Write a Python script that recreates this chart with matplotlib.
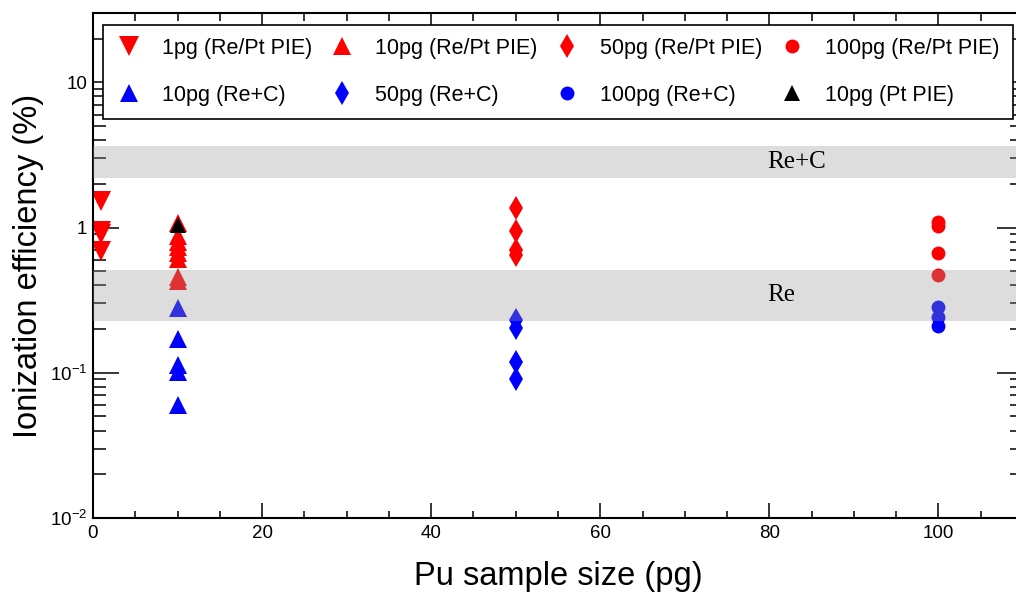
"""
ionization efficiency vs Pu sample size
"""

import matplotlib
matplotlib.use("Agg")
import matplotlib.pyplot as plt
from matplotlib.ticker import FixedLocator, LogLocator, MultipleLocator, FuncFormatter

plt.rcParams['font.family'] = ['Liberation Sans', 'DejaVu Sans']
plt.rcParams['mathtext.fontset'] = 'custom'
plt.rcParams['mathtext.rm'] = 'Liberation Sans'
plt.rcParams['mathtext.default'] = 'regular'

# measured efficiencies (%) per sample size / filament setup
x_1pg = 1
eff_1pg_pie = [1.52, 0.94, 0.90, 0.69]

x_10pg = 10
eff_10pg_pie = [1.08, 0.87, 0.80, 0.73, 0.67, 0.61, 0.46, 0.43]
eff_10pg_rec = [0.28, 0.172, 0.114, 0.101, 0.060]
eff_10pg_pt = [1.04]

x_50pg = 50
eff_50pg_pie = [1.37, 0.94, 0.705, 0.65]
eff_50pg_rec = [0.232, 0.204, 0.119, 0.091]

x_100pg = 100
eff_100pg_pie = [1.10, 1.02, 0.67, 0.474]
eff_100pg_rec = [0.285, 0.243, 0.211]

# reference ranges for the two filament types
band_names = ['Re+C', 'Re']
band_low = [2.18, 0.228]
band_high = [3.63, 0.513]

fig = plt.figure(figsize=(10.16, 5.93), dpi=100)
ax = fig.add_axes([93 / 1016, 75 / 593, 930 / 1016, 505 / 593])

ms_tri = 14.5
ms_up = 12.5
ms_dia = 12.5
ms_dot = 10

ax.plot([x_1pg] * len(eff_1pg_pie), eff_1pg_pie, 'v', color='red', ms=ms_tri, mew=0,
        ls='none', label='1pg (Re/Pt PIE)')
ax.plot([x_10pg] * len(eff_10pg_rec), eff_10pg_rec, '^', color='blue', ms=ms_up, mew=0,
        ls='none', label='10pg (Re+C)')
ax.plot([x_10pg] * len(eff_10pg_pie), eff_10pg_pie, '^', color='red', ms=ms_up, mew=0,
        ls='none', label='10pg (Re/Pt PIE)')
ax.plot([x_50pg] * len(eff_50pg_rec), eff_50pg_rec, 'd', color='blue', ms=ms_dia, mew=0,
        ls='none', label='50pg (Re+C)')
ax.plot([x_50pg] * len(eff_50pg_pie), eff_50pg_pie, 'd', color='red', ms=ms_dia, mew=0,
        ls='none', label='50pg (Re/Pt PIE)')
ax.plot([x_100pg] * len(eff_100pg_rec), eff_100pg_rec, 'o', color='blue', ms=ms_dot, mew=0,
        ls='none', label='100pg (Re+C)')
ax.plot([x_100pg] * len(eff_100pg_pie), eff_100pg_pie, 'o', color='red', ms=ms_dot, mew=0,
        ls='none', label='100pg (Re/Pt PIE)')
ax.plot([x_10pg] * len(eff_10pg_pt), eff_10pg_pt, '^', color='black', ms=ms_up - 1, mew=0,
        ls='none', label='10pg (Pt PIE)')

# shaded bands sit on top of the markers, semi transparent
for name, lo, hi in zip(band_names, band_low, band_high):
    ax.axhspan(lo, hi, color='#999999', alpha=0.33, lw=0, zorder=4)
    ax.text(79.8, (lo * hi) ** 0.5, name, family='Liberation Serif', fontsize=18,
            ha='left', va='center', zorder=5)

ax.set_yscale('log')
ax.set_xlim(0, 110)
ax.set_ylim(0.01, 30)

ax.xaxis.set_major_locator(MultipleLocator(20))
ax.xaxis.set_minor_locator(MultipleLocator(5))
ax.yaxis.set_major_locator(FixedLocator([0.01, 0.1, 1, 10]))
ax.yaxis.set_minor_locator(LogLocator(base=10, subs=range(2, 10)))

ylabels = {0.01: '$10^{-2}$', 0.1: '$10^{-1}$', 1: '1', 10: '10'}
ax.yaxis.set_major_formatter(FuncFormatter(lambda v, p: ylabels.get(round(v, 3), '')))
ax.yaxis.set_minor_formatter(FuncFormatter(lambda v, p: ''))

ax.tick_params(axis='both', which='both', direction='in', top=True, right=True,
               width=1.1, labelsize=13.5, colors='black')
ax.tick_params(axis='y', which='major', length=18.5, pad=4)
ax.tick_params(axis='y', which='minor', length=9.3)
ax.tick_params(axis='x', which='major', length=10.8, pad=5)
ax.tick_params(axis='x', which='minor', length=5.4)

for s in ax.spines.values():
    s.set_linewidth(1.5)

ax.set_xlabel('Pu sample size (pg)', fontsize=23.5, labelpad=14)
ax.set_ylabel('Ionization efficiency (%)', fontsize=23.5, labelpad=4)

leg = ax.legend(ncol=4, loc='upper left', bbox_to_anchor=(103 / 1016, 568 / 593),
                bbox_transform=fig.transFigure, borderaxespad=0, fontsize=15.5,
                handlelength=1.2, handletextpad=0.92, columnspacing=0.8,
                labelspacing=1.2, borderpad=0.6, fancybox=False, framealpha=1,
                edgecolor='black')
leg.get_frame().set_linewidth(1.2)
leg.set_zorder(10)

fig.savefig('out.png', dpi=100)
